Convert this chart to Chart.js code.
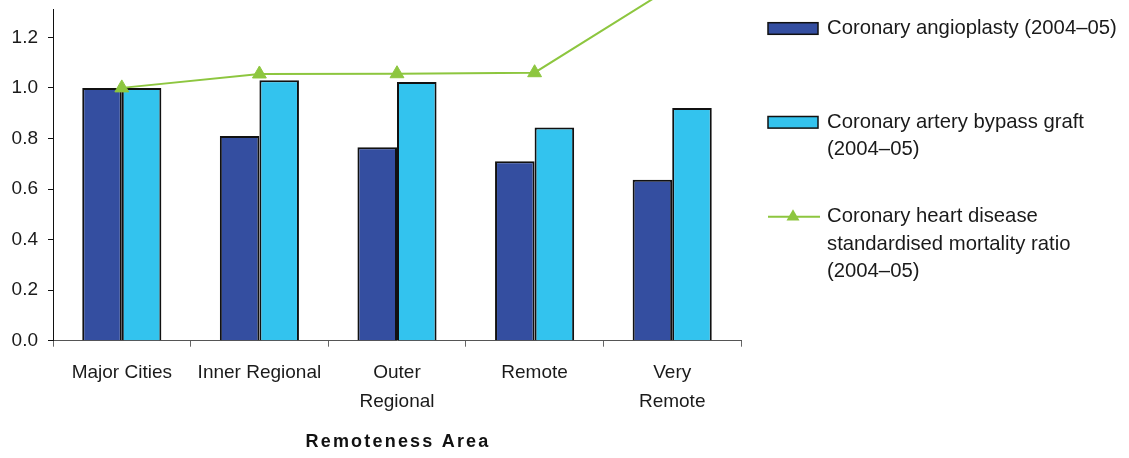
<!DOCTYPE html>
<html>
<head>
<meta charset="utf-8">
<title>Remoteness Area</title>
<script src="https://cdn.jsdelivr.net/npm/chart.js@4"></script>
<style>
  html, body { margin: 0; padding: 0; background: #fff; }
  #wrap { width: 1129px; height: 458px; }
</style>
</head>
<body>
<div id="wrap"><canvas id="remotenessChart" width="1129" height="458"></canvas></div>
<script>
// values
const categories = ["Major Cities", "Inner Regional", ["Outer", "Regional"], "Remote", ["Very", "Remote"]];
const angioplasty = [1.0, 0.81, 0.765, 0.71, 0.637];
const bypassGraft = [1.0, 1.03, 1.023, 0.843, 0.92];
const mortalityRatio = [1.0, 1.055, 1.056, 1.06, 1.40];
const yTicks = [0, 0.2, 0.4, 0.6, 0.8, 1.0, 1.2];
const seriesLabels = [
  ["Coronary angioplasty (2004\u201305)"],
  ["Coronary artery bypass graft", "(2004\u201305)"],
  ["Coronary heart disease", "standardised mortality ratio", "(2004\u201305)"],
];
const axisTitle = "Remoteness Area";

const FONT = "'Liberation Sans', Arial, sans-serif";
const DARK_BLUE = "#344ea0";
const LIGHT_BLUE = "#33c3ee";
const GREEN = "#8dc63f";

// legend drawn at the right, multi-line like the original
const sideLegend = {
  id: "sideLegend",
  afterDraw(chart) {
    const ctx = chart.ctx;
    const x0 = chart.chartArea.right + 27;
    const textX = x0 + 59;
    const tops = [28.5, 122.3, 216.7];
    const lineGap = 27.6;
    ctx.save();
    ctx.font = "20.3px " + FONT;
    ctx.textBaseline = "middle";
    ctx.textAlign = "left";
    chart.data.datasets.forEach((ds, i) => {
      const y = tops[i];
      if (ds.type === "line") {
        ctx.strokeStyle = ds.borderColor;
        ctx.lineWidth = 2;
        ctx.beginPath();
        ctx.moveTo(x0, y);
        ctx.lineTo(x0 + 52, y);
        ctx.stroke();
        ctx.fillStyle = ds.pointBackgroundColor;
        const r = 7.5;
        const cx = x0 + 25;
        ctx.beginPath();
        ctx.moveTo(cx, y - r);
        ctx.lineTo(cx + r * 0.866, y + r / 2);
        ctx.lineTo(cx - r * 0.866, y + r / 2);
        ctx.closePath();
        ctx.fill();
      } else {
        ctx.fillStyle = ds.backgroundColor;
        ctx.fillRect(x0, y - 5.8, 50, 11.6);
        ctx.strokeStyle = "#111";
        ctx.lineWidth = 1.5;
        ctx.strokeRect(x0, y - 5.8, 50, 11.6);
      }
      ctx.fillStyle = "#1a1a1a";
      seriesLabels[i].forEach((line, j) => {
        ctx.fillText(line, textX, y + j * lineGap);
      });
    });
    ctx.restore();
  },
};

// spaced bold axis title under the category labels
const spacedAxisTitle = {
  id: "spacedAxisTitle",
  afterDraw(chart) {
    const ctx = chart.ctx;
    const xs = chart.scales.x;
    ctx.save();
    ctx.font = "bold 18px " + FONT;
    ctx.letterSpacing = "2.2px";
    ctx.fillStyle = "#111";
    ctx.textAlign = "center";
    ctx.textBaseline = "middle";
    ctx.fillText(axisTitle, (xs.left + xs.right) / 2 + 1, 442);
    ctx.restore();
  },
};

const ctx = document.getElementById("remotenessChart").getContext("2d");

new Chart(ctx, {
  data: {
    labels: categories,
    datasets: [
      {
        type: "bar",
        label: seriesLabels[0].join(" "),
        data: angioplasty,
        backgroundColor: DARK_BLUE,
        borderColor: "#111",
        borderWidth: 2,
        categoryPercentage: 0.575,
        barPercentage: 1.0,
        order: 2,
      },
      {
        type: "bar",
        label: seriesLabels[1].join(" "),
        data: bypassGraft,
        backgroundColor: LIGHT_BLUE,
        borderColor: "#111",
        borderWidth: 2,
        categoryPercentage: 0.575,
        barPercentage: 1.0,
        order: 2,
      },
      {
        type: "line",
        label: seriesLabels[2].join(" "),
        data: mortalityRatio,
        borderColor: GREEN,
        borderWidth: 2,
        pointStyle: "triangle",
        pointRadius: 8,
        pointBackgroundColor: GREEN,
        pointBorderColor: GREEN,
        pointBorderWidth: 1,
        tension: 0,
        clip: false,
        order: 1,
      },
    ],
  },
  options: {
    responsive: false,
    animation: false,
    events: [],
    layout: { padding: { top: 7, right: 388, left: 0, bottom: 0 } },
    plugins: {
      legend: { display: false },
      tooltip: { enabled: false },
    },
    scales: {
      x: {
        grid: {
          offset: true,
          drawOnChartArea: false,
          drawTicks: true,
          tickLength: 6,
          color: "#666",
        },
        border: { color: "#555", width: 1 },
        ticks: {
          color: "#1a1a1a",
          padding: 11,
          maxRotation: 0,
          autoSkip: false,
          font: { family: FONT, size: 19, lineHeight: 1.55 },
        },
        afterFit(scale) {
          scale.height = 117.3;
          scale.paddingLeft = 0;
          scale.paddingRight = 0;
        },
      },
      y: {
        min: 0,
        max: 1.312,
        grid: {
          drawOnChartArea: false,
          drawTicks: true,
          tickLength: 5,
          color: "#111",
        },
        border: { color: "#111", width: 1 },
        ticks: {
          color: "#1a1a1a",
          padding: 10,
          font: { family: FONT, size: 19 },
          callback: (val) => Number(val).toFixed(1),
        },
        afterBuildTicks(scale) {
          scale.ticks = yTicks.map((v) => ({ value: v }));
        },
        afterFit(scale) {
          scale.width = 53;
          scale.paddingTop = 0;
          scale.paddingBottom = 0;
        },
      },
    },
  },
  plugins: [sideLegend, spacedAxisTitle],
});
</script>
</body>
</html>
